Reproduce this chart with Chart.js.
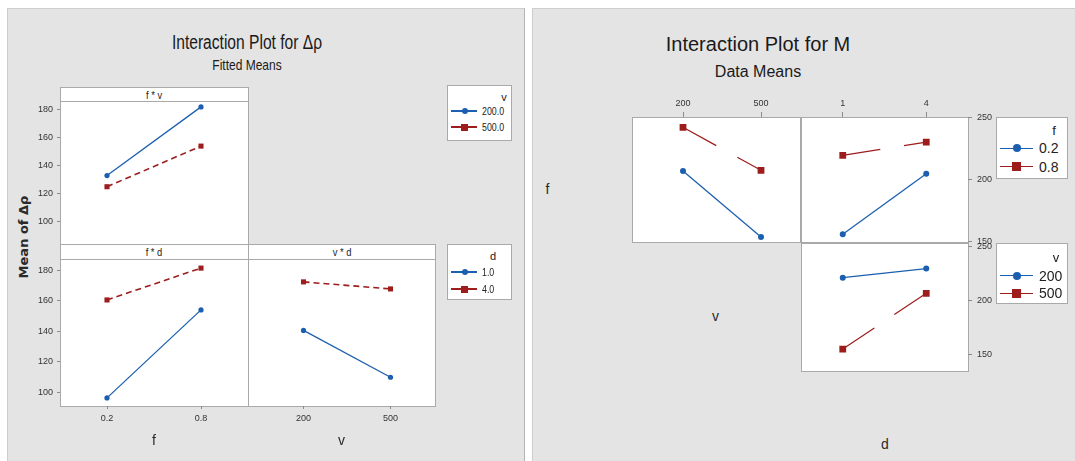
<!DOCTYPE html>
<html>
<head>
<meta charset="utf-8">
<script src="https://cdn.jsdelivr.net/npm/chart.js@4.4.1/dist/chart.umd.min.js"></script>
<style>
  body { margin: 0; width: 1075px; height: 461px; background: #fff; position: relative; overflow: hidden; color: #222; }
  .panel { position: absolute; background: #e4e4e4; box-sizing: border-box; }
  .box { position: absolute; background: #fff; border: 1px solid #a9a9a9; box-sizing: border-box; }
  .t { position: absolute; white-space: nowrap; line-height: 1; transform: translate(-50%, -50%); }
  .cv { position: absolute; }
</style>
</head>
<body>
<div class="panel" style="left:7px;top:8px;width:518px;height:460px;border-top:1px solid #cdcdcd;border-left:1px solid #cdcdcd;border-right:1px solid #b3b3b3"></div>
<div class="panel" style="left:532px;top:8px;width:543px;height:460px;border-top:1px solid #cdcdcd;border-left:1px solid #cdcdcd"></div>
<script>
// ---- Interaction Plot for Δρ (fitted means) ----
const fLevels = ['0.2', '0.8'];
const vLevels = ['200', '500'];
const dLevels = ['1', '4'];
const dpTicks = [100, 120, 140, 160, 180];
const dpFv200 = [133, 182];      // f*v, v = 200
const dpFv500 = [125, 154];      // f*v, v = 500
const dpFd1 = [96.5, 154];       // f*d, d = 1
const dpFd4 = [160.5, 181.3];    // f*d, d = 4
const dpVd1 = [140.6, 110];      // v*d, d = 1
const dpVd4 = [172.3, 167.7];    // v*d, d = 4
const dpLegendV = ['200.0', '500.0'];
const dpLegendD = ['1.0', '4.0'];

// ---- Interaction Plot for M (data means) ----
const mTicks = [150, 200, 250];
const mVf02 = [207, 153.7];      // x = v, f = 0.2
const mVf08 = [242.2, 207.5];    // x = v, f = 0.8
const mDf02 = [156, 204.8];      // x = d, f = 0.2
const mDf08 = [219.6, 230.3];    // x = d, f = 0.8
const mDv200 = [220.8, 229.2];   // x = d, v = 200
const mDv500 = [155, 206.4];     // x = d, v = 500
const mLegendF = ['0.2', '0.8'];
const mLegendV = ['200', '500'];

const SANS = '"Liberation Sans", Arial, sans-serif';
const BLUE = '#1c5fae';
const RED = '#9d1c1c';

Chart.defaults.font.family = SANS;
Chart.defaults.color = '#333';

// squeeze < 1 narrows the text like the left (squashed) picture
function text(s, x, y, font, color, squeeze, rot) {
  const d = document.createElement('div');
  d.className = 't';
  d.textContent = s;
  d.style.left = x + 'px';
  d.style.top = y + 'px';
  d.style.font = font;
  d.style.color = color || '#222';
  d.style.transform = 'translate(-50%,-50%)' + (rot ? ' rotate(' + rot + 'deg)' : '') + (squeeze ? ' scaleX(' + squeeze + ')' : '');
  document.body.appendChild(d);
  return d;
}

function box(l, t, w, h) {
  const d = document.createElement('div');
  d.className = 'box';
  d.style.cssText = `left:${l}px;top:${t}px;width:${w}px;height:${h}px`;
  document.body.appendChild(d);
}

function series(label, data, color, dash, big) {
  const circle = color === BLUE;
  return {
    label, data,
    borderColor: color, backgroundColor: color,
    pointBackgroundColor: color, pointBorderWidth: 0,
    borderWidth: circle ? 1.3 : (big ? 1.2 : 1.6),
    borderDash: dash,
    pointStyle: circle ? 'circle' : 'rect',
    pointRadius: circle ? (big ? 3 : 2.6) : (big ? 4.8 : 3.6),
    tension: 0, fill: false
  };
}

// area = [left, top, width, height] of the plot frame on the page
function plot(area, cats, sets, yMin, yMax, yTicks, ax) {
  const [L, T, W, H] = area;
  const m = { l: 12, r: 12, t: 12, b: 12 };
  if (ax.y === 'left') m.l = 40;
  if (ax.y === 'right') m.r = 40;
  if (ax.x === 'top') m.t = 24;
  if (ax.x === 'bottom') m.b = 24;
  const cv = document.createElement('canvas');
  cv.className = 'cv';
  cv.width = W + m.l + m.r;
  cv.height = H + m.t + m.b;
  cv.style.left = (L - m.l) + 'px';
  cv.style.top = (T - m.t) + 'px';
  document.body.appendChild(cv);
  new Chart(cv, {
    type: 'line',
    data: { labels: cats, datasets: sets },
    options: {
      responsive: false, animation: false, devicePixelRatio: 1,
      layout: { padding: {
        left: ax.y === 'left' ? 0 : m.l, right: ax.y === 'right' ? 0 : m.r,
        top: ax.x === 'top' ? 0 : m.t, bottom: ax.x === 'bottom' ? 0 : m.b } },
      plugins: { legend: { display: false }, tooltip: { enabled: false } },
      scales: {
        x: {
          type: 'category', offset: true, display: !!ax.x, position: ax.x || 'bottom',
          grid: { drawOnChartArea: false, tickLength: ax.xTick, color: '#8c8c8c' },
          border: { display: false },
          ticks: { font: { size: ax.font }, color: '#333', padding: ax.xPad, maxRotation: 0, autoSkip: false },
          afterFit: s => { s.height = ax.x === 'top' ? m.t : m.b; }
        },
        y: {
          type: 'linear', min: yMin, max: yMax, display: !!ax.y, position: ax.y || 'left',
          afterBuildTicks: s => { s.ticks = yTicks.map(v => ({ value: v })); },
          grid: { drawOnChartArea: false, tickLength: ax.yTick, color: '#8c8c8c' },
          border: { display: false },
          ticks: { font: { size: ax.font }, color: '#333', padding: ax.yPad, callback: v => String(v) },
          afterFit: s => { s.width = ax.y === 'right' ? m.r : m.l; }
        }
      }
    }
  });
}

function legend(l, t, w, h, title, tx, ty, labels, rows, o) {
  box(l, t, w, h);
  text(title, tx, ty, o.titleFont, '#222');
  [BLUE, RED].forEach((c, i) => {
    const y = rows[i];
    const ln = document.createElement('div');
    ln.style.cssText = `position:absolute;left:${o.x0}px;top:${y - 0.75}px;width:${o.x1 - o.x0}px;height:1.5px;background:${c}`;
    document.body.appendChild(ln);
    const mk = document.createElement('div');
    const s = i === 0 ? o.dot : o.sq;
    mk.style.cssText = `position:absolute;left:${o.mx - s / 2}px;top:${y - s / 2}px;width:${s}px;height:${s}px;background:${c};border-radius:${i === 0 ? '50%' : '0'}`;
    document.body.appendChild(mk);
    const tt = text(labels[i], o.tx, y, o.font, '#222');
    tt.style.transformOrigin = '0 50%';
    tt.style.transform = 'translate(0,-50%)' + (o.squeeze ? ' scaleX(' + o.squeeze + ')' : '');
  });
}

// ===== Left chart: Interaction Plot for Δρ =====
text('Interaction Plot for Δρ', 247, 42, '20px ' + SANS, '#1a1a1a', 0.78);
text('Fitted Means', 247, 64, '15px ' + SANS, '#1a1a1a', 0.8);
text('Mean of Δρ', 23, 237, 'bold 13px "DejaVu Sans", sans-serif', '#2a2a2a', 0, -90);

box(60, 87, 189, 15);
box(60, 101, 189, 144);
box(60, 244, 189, 16);
box(248, 244, 188, 16);
box(60, 259, 189, 148);
box(248, 259, 188, 148);
text('f * v', 154, 94.5, '11px ' + SANS, '#222', 0.85);
text('f * d', 154, 252, '11px ' + SANS, '#222', 0.85);
text('v * d', 342, 252, '11px ' + SANS, '#222', 0.85);

const leftAx = { y: 'left', yTick: 3, yPad: 4, xTick: 3, xPad: 4, font: 9 };
plot([60, 101.4, 188.4, 142.6], fLevels,
  [series('200.0', dpFv200, BLUE, []), series('500.0', dpFv500, RED, [6, 4])],
  93.4, 186.2, dpTicks, { ...leftAx, x: null });
plot([60, 259.7, 188.4, 146.4], fLevels,
  [series('1.0', dpFd1, BLUE, []), series('4.0', dpFd4, RED, [6, 4])],
  91.2, 186.6, dpTicks, { ...leftAx, x: 'bottom' });
plot([248.4, 259.7, 186.9, 146.4], vLevels,
  [series('1.0', dpVd1, BLUE, []), series('4.0', dpVd4, RED, [6, 4])],
  91.2, 186.6, dpTicks, { ...leftAx, x: 'bottom', y: null });

text('f', 154, 439.5, '14px ' + SANS, '#2a2a2a');
text('v', 341.5, 439.5, '14px ' + SANS, '#2a2a2a');

const legL = { x0: 451, x1: 477, mx: 464.5, tx: 481.5, dot: 6, sq: 7, font: '11px ' + SANS, titleFont: '11px ' + SANS, squeeze: 0.8 };
legend(446.5, 84.5, 65.5, 56, 'v', 504, 97, dpLegendV, [111, 127], legL);
legend(446.5, 244, 65.5, 55.5, 'd', 493, 255.5, dpLegendD, [272, 289], legL);

// ===== Right chart: Interaction Plot for M =====
text('Interaction Plot for M', 758, 43.5, '20px ' + SANS, '#1a1a1a');
text('Data Means', 758, 72, '16px ' + SANS, '#1a1a1a');

box(632.3, 116.7, 169, 126.5);
box(800.7, 116.7, 168, 126.5);
box(800.7, 242.7, 168, 129.5);

const rightAx = { xTick: 5, xPad: 3, yTick: 4, yPad: 5, font: 9 };
plot([632.3, 116.7, 168.4, 126], vLevels,
  [series('0.2', mVf02, BLUE, [], true), series('0.8', mVf08, RED, [38, 24], true)],
  148.9, 250.5, mTicks, { ...rightAx, x: 'top', y: null });
plot([800.7, 116.7, 167.6, 126], dLevels,
  [series('0.2', mDf02, BLUE, [], true), series('0.8', mDf08, RED, [38, 24], true)],
  148.9, 250.5, mTicks, { ...rightAx, x: 'top', y: 'right' });
plot([800.7, 243.3, 167.6, 128.4], dLevels,
  [series('200', mDv200, BLUE, [], true), series('500', mDv500, RED, [38, 24], true)],
  145.8, 252.8, mTicks, { ...rightAx, x: null, y: 'right' });

text('f', 547.5, 189, '14px ' + SANS, '#2a2a2a');
text('v', 715.5, 315.5, '14px ' + SANS, '#2a2a2a');
text('d', 885, 444, '14px ' + SANS, '#2a2a2a');

const legR = { x0: 1000, x1: 1033, mx: 1016.7, tx: 1039, dot: 8, sq: 9, font: '14px ' + SANS, titleFont: '13px ' + SANS };
legend(996, 116.7, 72, 62, 'f', 1054, 130, mLegendF, [148.3, 166.5], legR);
legend(996, 243.3, 72, 61, 'v', 1056, 257, mLegendV, [275.7, 293.3], legR);
</script>
</body>
</html>
